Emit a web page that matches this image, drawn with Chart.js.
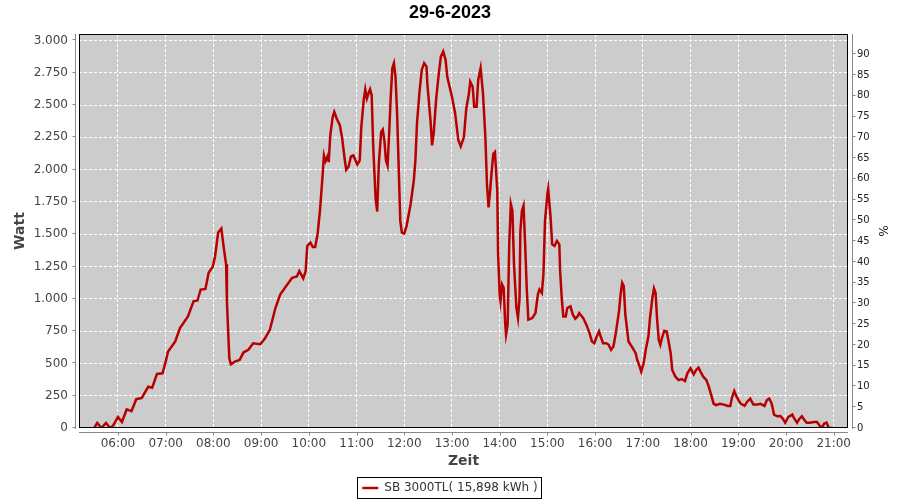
<!DOCTYPE html>
<html>
<head>
<meta charset="utf-8">
<script src="https://cdn.jsdelivr.net/npm/chart.js@4"></script>
<style>
  html, body { margin: 0; padding: 0; background: #fff; }
  #wrap { width: 900px; height: 500px; }
</style>
</head>
<body>
<div id="wrap"><canvas id="chart" width="900" height="500"></canvas></div>
<script>
// Messwerte 29-6-2023 (Uhrzeit / Leistung in Watt)
const zeiten = [
  '05:30','05:34','05:39','05:45','05:50','05:54','06:00','06:05','06:11','06:17','06:23','06:30','06:38','06:43','06:49','06:56',
  '07:00','07:03','07:12','07:18','07:28','07:35','07:40','07:44','07:50','07:54','07:59',
  '08:02','08:06','08:10','08:13','08:16','08:17','08:20','08:22','08:27','08:33','08:38','08:44','08:50','08:59',
  '09:05','09:11','09:18','09:24','09:30','09:39','09:45','09:48','09:53','09:56','09:58',
  '10:02','10:05','10:08','10:11','10:14','10:17','10:19','10:21','10:24','10:25','10:27','10:30','10:32','10:35','10:39','10:42','10:45','10:47','10:50','10:53','10:56',
  '11:01','11:04','11:06','11:09','11:11','11:13','11:15','11:17','11:19','11:21','11:24','11:26','11:28','11:31','11:33','11:35','11:37','11:39','11:41','11:43','11:45','11:47','11:49','11:51','11:53','11:55','11:57',
  '12:00','12:03','12:08','12:12','12:14','12:16','12:19','12:22','12:25','12:28','12:29','12:33','12:35','12:37','12:40','12:43','12:46','12:49','12:52','12:54',
  '13:00','13:04','13:08','13:11','13:15','13:18','13:21','13:23','13:26','13:28','13:31','13:33','13:36','13:39','13:42','13:44','13:46','13:48','13:50','13:52','13:54','13:57','13:58',
  '14:00','14:01','14:03','14:05','14:07','14:08','14:10','14:12','14:14','14:16','14:18','14:21','14:23','14:25','14:26','14:28','14:30','14:32','14:34','14:36','14:41','14:45','14:48','14:50','14:53','14:55','14:57',
  '15:00','15:01','15:04','15:06','15:09','15:12','15:15','15:16','15:18','15:20','15:23','15:25','15:29','15:32','15:35','15:38','15:40','15:45','15:49','15:53','15:56','15:59',
  '16:02','16:05','16:07','16:10','16:14','16:17','16:20','16:23','16:26','16:30','16:32','16:34','16:36','16:38','16:42','16:46','16:51','16:53','16:56','16:58',
  '17:01','17:04','17:07','17:09','17:12','17:14','17:16','17:18','17:20','17:22','17:24','17:27','17:30','17:32','17:35','17:37','17:41','17:45','17:49','17:53','17:56',
  '18:00','18:04','18:07','18:10','18:13','18:16','18:20','18:23','18:26','18:29','18:32','18:37','18:42','18:47','18:50','18:52','18:55','18:58',
  '19:03','19:08','19:11','19:15','19:19','19:24','19:28','19:33','19:36','19:39','19:42','19:45','19:49','19:53','19:56','19:59',
  '20:03','20:08','20:10','20:14','20:17','20:20','20:22','20:26','20:30','20:35','20:39','20:42','20:45','20:48','20:51','20:54','21:00'
];
const watt = [
  0,40,0,40,0,20,85,47,145,130,223,233,319,311,418,423,
  514,592,670,773,864,981,987,1072,1077,1201,1246,
  1324,1513,1544,1396,1267,981,540,493,514,527,586,605,656,649,
  695,760,929,1033,1085,1163,1173,1215,1158,1215,1409,
  1435,1401,1401,1500,1682,1928,2110,2066,2110,2058,2266,2408,2447,2396,2344,2240,2084,1999,2024,2102,2110,
  2040,2071,2330,2538,2622,2551,2590,2622,2577,2175,1773,1676,2045,2292,2310,2227,2071,2032,2279,2564,2785,2824,2720,2435,2019,1604,1513,
  1505,1565,1734,1915,2071,2357,2590,2772,2824,2798,2668,2382,2188,2279,2538,2720,2875,2914,2850,2720,
  2564,2435,2227,2180,2252,2474,2577,2681,2642,2486,2486,2694,2785,2590,2252,1889,1707,1837,1993,2123,2136,1837,1345,
  1033,981,1111,1085,800,722,800,1422,1734,1682,1267,929,851,1007,1526,1682,1721,1422,1085,839,851,890,1033,1072,1046,1189,1604,
  1812,1851,1630,1422,1409,1448,1422,1215,1007,864,864,929,942,877,846,864,890,851,800,734,670,656,
  708,747,708,656,656,644,605,631,734,903,1033,1124,1098,877,670,631,579,527,475,436,
  501,617,708,851,1007,1080,1046,839,683,644,695,753,747,683,579,449,397,371,379,364,423,
  462,415,449,467,431,397,371,319,255,189,177,187,181,171,171,234,286,241,
  189,171,202,228,181,181,187,171,216,228,189,104,91,93,72,41,
  86,104,78,41,72,91,72,41,41,47,47,21,0,34,41,0,0
];

const titel = '29-6-2023';
const serienName = 'SB 3000TL( 15,898 kWh )';
const zeitVon = '05:11';
const zeitBis = '21:18';
const wattMax = 3050;
const prozentMax = 94.9;
const wattTicks = [0, 250, 500, 750, 1000, 1250, 1500, 1750, 2000, 2250, 2500, 2750, 3000];

function inMinuten(t) {
  const teile = t.split(':');
  return Number(teile[0]) * 60 + Number(teile[1]);
}
function zweistellig(n) {
  return (n < 10 ? '0' : '') + n;
}
function tausender(v) {
  return String(v).replace(/\B(?=(\d{3})+(?!\d))/g, '.');
}

const punkte = zeiten.map((z, i) => ({ x: inMinuten(z), y: watt[i] }));

const schrift = "'DejaVu Sans', sans-serif";

// Hintergrund, Rahmen, abgesetzte Achslinien und Legendenrahmen
const rahmenPlugin = {
  id: 'rahmen',
  beforeDraw(chart) {
    const a = chart.chartArea;
    const ctx = chart.ctx;
    ctx.save();
    ctx.fillStyle = '#cccccc';
    ctx.fillRect(a.left, a.top, a.right - a.left, a.bottom - a.top);
    ctx.restore();
  },
  afterDraw(chart) {
    const a = chart.chartArea;
    const ctx = chart.ctx;
    ctx.save();
    ctx.strokeStyle = '#000';
    ctx.lineWidth = 1;
    ctx.strokeRect(Math.round(a.left) + 0.5, Math.round(a.top) + 0.5,
      Math.round(a.right - a.left) - 1, Math.round(a.bottom - a.top) - 1);

    ctx.strokeStyle = '#888';
    ctx.beginPath();
    // linke Achse
    const xl = Math.round(a.left) - 3.5;
    ctx.moveTo(xl, a.top); ctx.lineTo(xl, a.bottom + 1);
    chart.scales.y.ticks.forEach(t => {
      const py = Math.round(chart.scales.y.getPixelForValue(t.value)) - 0.5;
      ctx.moveTo(xl, py); ctx.lineTo(xl - 3, py);
    });
    // rechte Achse
    const xr = Math.round(a.right) + 4.5;
    ctx.moveTo(xr, a.top); ctx.lineTo(xr, a.bottom + 1);
    chart.scales.y2.ticks.forEach(t => {
      const py = Math.round(chart.scales.y2.getPixelForValue(t.value)) - 0.5;
      ctx.moveTo(xr, py); ctx.lineTo(xr + 3, py);
    });
    // untere Achse
    const yb = Math.round(a.bottom) + 4.5;
    ctx.moveTo(a.left, yb); ctx.lineTo(a.right, yb);
    chart.scales.x.ticks.forEach(t => {
      const px = Math.round(chart.scales.x.getPixelForValue(t.value)) + 0.5;
      ctx.moveTo(px, yb); ctx.lineTo(px, yb + 3);
    });
    ctx.stroke();

    // Rahmen um die Legende
    const box = chart.legend.legendHitBoxes[0];
    if (box) {
      ctx.strokeStyle = '#000';
      ctx.strokeRect(Math.round(box.left) - 4.5, Math.round(box.top) - 4.5,
        Math.round(box.width) + 9, Math.round(box.height) + 9);
    }
    ctx.restore();
  }
};

new Chart(document.getElementById('chart'), {
  type: 'line',
  data: {
    datasets: [{
      label: serienName,
      data: punkte,
      borderColor: '#b80000',
      backgroundColor: '#b80000',
      borderWidth: 2.5,
      pointRadius: 0,
      tension: 0,
      fill: false,
      yAxisID: 'y'
    }]
  },
  options: {
    responsive: false,
    animation: false,
    devicePixelRatio: 1,
    layout: { padding: { left: 0, right: 0, top: 0, bottom: -4 } },
    plugins: {
      title: {
        display: true,
        text: titel,
        color: '#000',
        font: { family: "'Liberation Sans Narrow', 'Liberation Sans', sans-serif", size: 18, weight: 'bold', lineHeight: 1.2 },
        padding: { top: 2, bottom: 10.4 }
      },
      legend: {
        display: true,
        position: 'bottom',
        labels: {
          usePointStyle: true,
          pointStyle: 'line',
          pointStyleWidth: 16,
          color: '#333',
          font: { family: schrift, size: 12 },
          padding: 8
        }
      },
      tooltip: { enabled: false }
    },
    scales: {
      x: {
        type: 'linear',
        min: inMinuten(zeitVon),
        max: inMinuten(zeitBis),
        afterFit(scale) { scale.height = 46; },
        border: { display: false, dash: [3, 2] },
        grid: { color: '#ffffff', lineWidth: 1, drawTicks: false },
        ticks: {
          stepSize: 60,
          includeBounds: false,
          autoSkip: false,
          maxTicksLimit: 40,
          maxRotation: 0,
          padding: 9,
          color: '#444',
          font: { family: schrift, size: 12 },
          callback: v => zweistellig(Math.floor(v / 60)) + ':' + zweistellig(v % 60)
        },
        title: {
          display: true,
          text: 'Zeit',
          color: '#444',
          font: { family: schrift, size: 14, weight: 'bold', lineHeight: 1.2 },
          padding: { top: 0, bottom: 4 }
        }
      },
      y: {
        position: 'left',
        min: 0,
        max: wattMax,
        afterFit(scale) { scale.width = 79; },
        afterBuildTicks(scale) { scale.ticks = wattTicks.map(v => ({ value: v })); },
        border: { display: false, dash: [3, 2] },
        grid: { color: '#ffffff', lineWidth: 1, drawTicks: false },
        ticks: {
          autoSkip: false,
          padding: 11,
          color: '#444',
          font: { family: schrift, size: 12 },
          callback: v => tausender(v)
        },
        title: {
          display: true,
          text: 'Watt',
          color: '#444',
          font: { family: schrift, size: 14, weight: 'bold', lineHeight: 1.2 },
          padding: { top: 12, bottom: 0 }
        }
      },
      y2: {
        position: 'right',
        min: 0,
        max: prozentMax,
        afterFit(scale) { scale.width = 52; },
        border: { display: false },
        grid: { drawOnChartArea: false, drawTicks: false },
        ticks: {
          stepSize: 5,
          includeBounds: false,
          maxTicksLimit: 40,
          padding: 9,
          color: '#222',
          font: { family: schrift, size: 10 }
        },
        title: {
          display: true,
          text: '%',
          color: '#222',
          font: { family: schrift, size: 12, lineHeight: 1.2 },
          padding: { top: 11, bottom: 0 }
        }
      }
    }
  },
  plugins: [rahmenPlugin]
});
</script>
</body>
</html>
